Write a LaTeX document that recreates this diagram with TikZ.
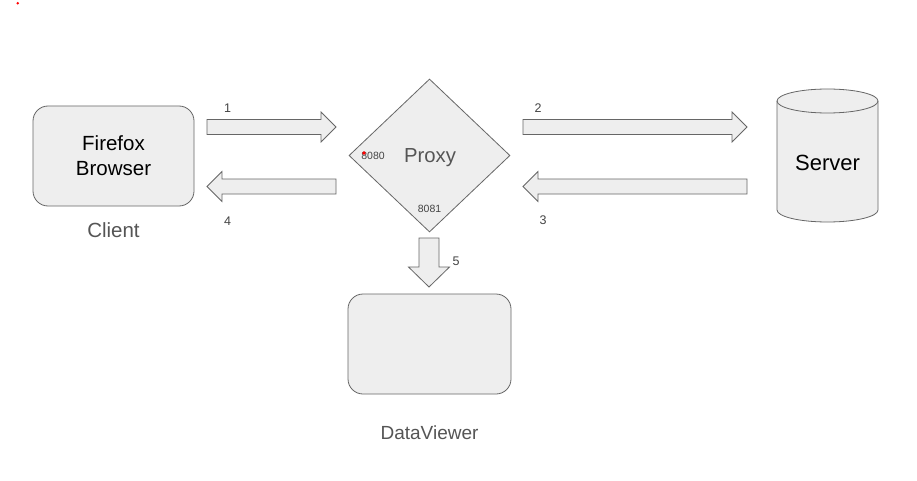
\documentclass[tikz,border=0pt]{standalone}
\usepackage{fontspec}
\setmainfont{Liberation Sans}
\usetikzlibrary{shapes.geometric,calc}
\definecolor{linegray}{HTML}{666666}
\definecolor{boxgray}{HTML}{EEEEEE}
\definecolor{textgray}{HTML}{555555}
\definecolor{numgray}{HTML}{444444}
\tikzset{
  box/.style={draw=linegray,fill=boxgray,line width=0.8pt,rounded corners=15pt,inner sep=0pt,align=center},
  blockarrow/.style={draw=linegray,fill=boxgray,line width=0.8pt,line join=miter},
  steplabel/.style={text=numgray,inner sep=0pt,font=\fontsize{12.5}{15}\selectfont},
  portlabel/.style={text=numgray,inner sep=0pt,font=\fontsize{10.5}{12}\selectfont},
  caption/.style={text=textgray,inner sep=0pt,font=\fontsize{20.5}{24}\selectfont}
}
\begin{document}
\begin{tikzpicture}[x=1pt,y=1pt]
\useasboundingbox (0,0) rectangle (917,-481);
\fill[white] (0,0) rectangle (917,-481);
\fill[red] (17.7,-3.3) circle (1.4);
\node[box,minimum width=161pt,minimum height=100pt,font=\fontsize{20.5}{25}\selectfont] (client) at (113.5,-156) {Firefox\\Browser};
\node[caption] (clientlbl) at (113.5,-229.7) {Client};
\node[diamond,draw=linegray,fill=boxgray,line width=0.8pt,inner sep=0pt,minimum width=161pt,minimum height=153pt] (proxy) at (429.5,-155.5) {};
\node[caption,anchor=base,font=\fontsize{20.3}{24}\selectfont] (proxylbl) at (430,-162.7) {Proxy};
\node[portlabel] (p8080) at (373,-156.3) {8080};
\node[portlabel] (p8081) at (429.5,-208.8) {8081};
\fill[red] (364,-153) circle (1.8);
\fill[boxgray,draw=linegray,line width=0.8pt] (777,-101) -- (777,-210) arc (180:360:50.5 and 12) -- (878,-101) arc (0:180:50.5 and 12) -- cycle;
\draw[linegray,line width=0.8pt] (777,-101) arc (180:360:50.5 and 12);
\node[inner sep=0pt,anchor=base,font=\fontsize{22}{26}\selectfont] (server) at (827.5,-170.5) {Server};
\node[box,minimum width=163pt,minimum height=100pt] (viewer) at (429.5,-344) {};
\node[caption,font=\fontsize{19}{23}\selectfont] (viewerlbl) at (429.5,-432.4) {DataViewer};
\coordinate (a1) at (207,-119.5);
\coordinate (a2) at (523,-119.5);
\coordinate (a3) at (747,-179);
\coordinate (a4) at (336,-179);
\coordinate (a5) at (419,-238);
\draw[blockarrow] (a1) -- ++(114,0) -- ++(0,7.5) -- ++(15,-15) -- ++(-15,-15) -- ++(0,7.5) -- ++(-114,0) -- cycle;
\draw[blockarrow] (a2) -- ++(209,0) -- ++(0,7.5) -- ++(15,-15) -- ++(-15,-15) -- ++(0,7.5) -- ++(-209,0) -- cycle;
\draw[blockarrow] (a3) -- ++(-209,0) -- ++(0,7.5) -- ++(-15,-15) -- ++(15,-15) -- ++(0,7.5) -- ++(209,0) -- cycle;
\draw[blockarrow] (a4) -- ++(-114,0) -- ++(0,7.5) -- ++(-15,-15) -- ++(15,-15) -- ++(0,7.5) -- ++(114,0) -- cycle;
\draw[blockarrow] (a5) -- ++(0,-29) -- ++(-10.5,0) -- ++(20.5,-20) -- ++(20.5,20) -- ++(-10.5,0) -- ++(0,29) -- cycle;
\node[steplabel] (n1) at (227.7,-108.7) {1};
\node[steplabel] (n2) at (538,-108.5) {2};
\node[steplabel] (n3) at (543,-220.5) {3};
\node[steplabel] (n4) at (227.7,-221.3) {4};
\node[steplabel] (n5) at (456,-261.3) {5};
\end{tikzpicture}
\end{document}
